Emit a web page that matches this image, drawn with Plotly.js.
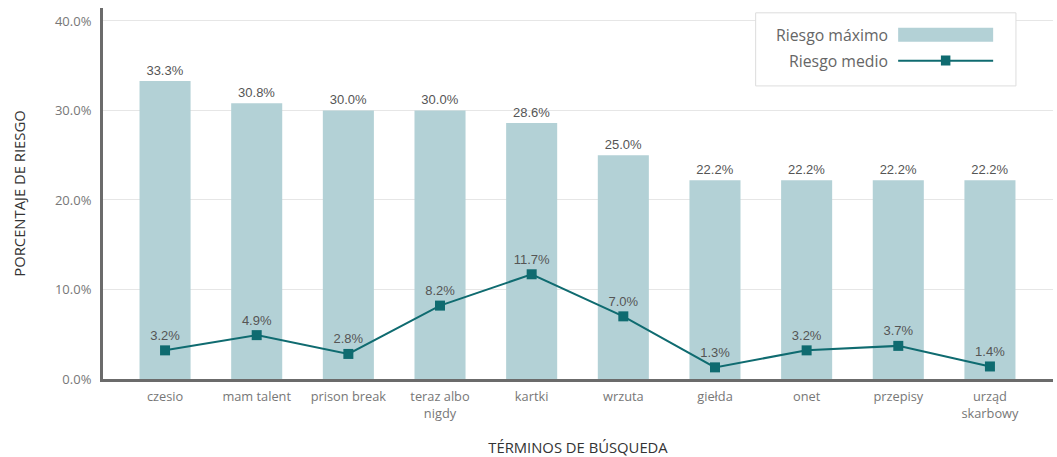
<!DOCTYPE html>
<html>
<head>
<meta charset="utf-8">
<script src="https://cdn.plot.ly/plotly-3.0.1.min.js"></script>
<style>html,body{margin:0;padding:0;background:#fff;}#chart{width:1057px;height:457px;}</style>
</head>
<body>
<div id="chart"></div>
<script>
var categories = ["czesio", "mam talent", "prison break", "teraz albo<br>nigdy", "kartki", "wrzuta", "giełda", "onet", "przepisy", "urząd<br>skarbowy"];
var riesgoMaximo = [33.3, 30.8, 30.0, 30.0, 28.6, 25.0, 22.2, 22.2, 22.2, 22.2];
var riesgoMedio = [3.2, 4.9, 2.8, 8.2, 11.7, 7.0, 1.3, 3.2, 3.7, 1.4];
var seriesNames = ["Riesgo máximo", "Riesgo medio"];
var yTicks = [0, 10, 20, 30, 40];

var barColor = "#b3d1d6";
var lineColor = "#0f6b70";
var xIdx = categories.map(function(_, i){ return i; });

var traces = [
  {
    type: "bar", name: seriesNames[0], x: xIdx, y: riesgoMaximo,
    marker: {color: barColor}, width: 0.557,
    text: riesgoMaximo.map(function(v){ return v.toFixed(1) + "%"; }),
    textposition: "outside", cliponaxis: false,
    textfont: {family: "Liberation Sans, Arial, sans-serif", size: 13, color: "#555"},
    showlegend: false, hoverinfo: "none"
  },
  {
    type: "scatter", mode: "lines+markers+text", name: seriesNames[1], x: xIdx, y: riesgoMedio,
    line: {color: lineColor, width: 2},
    marker: {symbol: "square", size: 10, color: lineColor},
    text: riesgoMedio.map(function(v){ return v.toFixed(1) + "%"; }),
    textposition: "top center", cliponaxis: false,
    textfont: {family: "Liberation Sans, Arial, sans-serif", size: 13, color: "#555"},
    showlegend: false, hoverinfo: "none"
  }
];

var layout = {
  width: 1057, height: 457,
  margin: {l: 103, r: 4, t: 8, b: 78},
  paper_bgcolor: "#fff", plot_bgcolor: "#fff",
  font: {family: "Open Sans, Noto Sans, sans-serif", color: "#777", size: 13},
  bargap: 0.4,
  xaxis: {
    range: [-0.677, 9.688],
    tickmode: "array", tickvals: xIdx, ticktext: categories,
    showgrid: false, zeroline: false,
    showline: true, linecolor: "#6b6b6b", linewidth: 3,
    ticks: "", ticklabelstandoff: 4,
    tickfont: {size: 12.8, color: "#777", family: "Open Sans, sans-serif"},
    title: {text: "TÉRMINOS DE BÚSQUEDA", font: {size: 14.8, color: "#333", family: "Open Sans, sans-serif"}, standoff: 27}
  },
  yaxis: {
    range: [0, 41.45],
    tickmode: "array", tickvals: yTicks,
    ticktext: yTicks.map(function(v){ return v.toFixed(1) + "%"; }),
    showgrid: true, gridcolor: "#e6e6e6", gridwidth: 1,
    zeroline: false,
    showline: true, linecolor: "#6b6b6b", linewidth: 3,
    ticks: "", ticklabelstandoff: 6,
    tickfont: {size: 13, color: "#777", family: "Open Sans, sans-serif"},
    title: {text: "PORCENTAJE DE RIESGO", font: {size: 14.8, color: "#333", family: "Open Sans, sans-serif"}, standoff: 26}
  },
  shapes: [
    {type: "rect", xref: "paper", yref: "paper", x0: 0.687, x1: 0.961, y0: 0.79, y1: 0.987, fillcolor: "#fff", line: {color: "#dddddd", width: 1}, layer: "above"},
    {type: "rect", xref: "paper", yref: "paper", x0: 0.837, x1: 0.937, y0: 0.909, y1: 0.947, fillcolor: barColor, line: {width: 0}, layer: "above"},
    {type: "line", xref: "paper", yref: "paper", x0: 0.837, x1: 0.937, y0: 0.858, y1: 0.858, line: {color: lineColor, width: 2}, layer: "above"},
    {type: "rect", xref: "paper", yref: "paper", x0: 0.882, x1: 0.892, y0: 0.845, y1: 0.872, fillcolor: lineColor, line: {width: 0}, layer: "above"}
  ],
  annotations: [
    {xref: "paper", yref: "paper", x: 0.828, y: 0.928, xanchor: "right", yanchor: "middle", text: seriesNames[0], showarrow: false, font: {size: 15.8, color: "#666", family: "Open Sans, sans-serif"}},
    {xref: "paper", yref: "paper", x: 0.828, y: 0.858, xanchor: "right", yanchor: "middle", text: seriesNames[1], showarrow: false, font: {size: 15.8, color: "#666", family: "Open Sans, sans-serif"}}
  ]
};

Plotly.newPlot("chart", traces, layout, {staticPlot: true, displayModeBar: false});
</script>
</body>
</html>
